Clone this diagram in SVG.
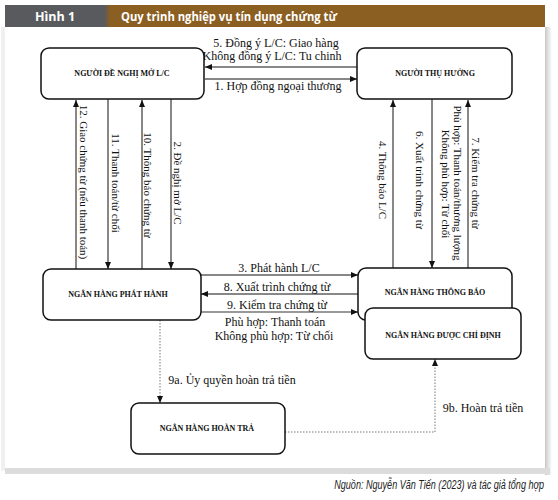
<svg xmlns="http://www.w3.org/2000/svg" width="558" height="500" viewBox="0 0 558 500">
<defs>
<style>
.node rect{fill:#fff;stroke:#111;stroke-width:1.5}
.nt{font-family:"Liberation Serif","Times New Roman",serif;font-weight:bold;font-size:8px;fill:#111;text-anchor:middle}
.lb{font-family:"Liberation Serif","Times New Roman",serif;font-size:12px;fill:#111;text-anchor:middle}
.vl{font-family:"Liberation Serif","Times New Roman",serif;font-size:11px;fill:#111;text-anchor:middle}
.ln{stroke:#111;stroke-width:1;fill:none}
.dot{stroke:#777;stroke-width:1;fill:none;stroke-dasharray:1.5 1.5}
</style>
<marker id="ah" markerWidth="7" markerHeight="6" refX="7" refY="3" orient="auto" markerUnits="userSpaceOnUse">
<path d="M0,0 L7,3 L0,6 z" fill="#111"/>
</marker>
<linearGradient id="shr" x1="0" y1="0" x2="1" y2="0">
<stop offset="0" stop-color="#c8c8c8"/><stop offset="1" stop-color="#fff"/>
</linearGradient>
<linearGradient id="hdr" x1="0" y1="0" x2="1" y2="0">
<stop offset="0" stop-color="#595a5d"/><stop offset="0.95" stop-color="#595a5d"/><stop offset="1" stop-color="#8b5e22"/>
</linearGradient>
</defs>
<rect x="0" y="0" width="558" height="500" fill="#fff"/>
<rect x="545" y="27" width="7" height="448" fill="url(#shr)"/>
<rect x="5" y="468" width="545" height="6" fill="#dcdcdc"/>
<rect x="1" y="27" width="4" height="444" fill="#f0f0f0"/>
<rect x="5" y="27" width="540" height="441" fill="#fff"/>
<rect x="5" y="5" width="540" height="22" fill="#8b5e22"/>
<rect x="5" y="5" width="105" height="22" fill="url(#hdr)"/>
<text x="55" y="21" font-family="'Open Sans','Liberation Sans',sans-serif" font-weight="bold" font-size="12.5" fill="#fff" text-anchor="middle">Hình 1</text>
<text x="121" y="21" font-family="'Open Sans','Liberation Sans',sans-serif" font-weight="bold" font-size="12.5" fill="#fff" textLength="216" lengthAdjust="spacingAndGlyphs">Quy trình nghiệp vụ tín dụng chứng từ</text>

<g id="connectors">
<line class="ln" x1="357" y1="67" x2="205" y2="67" marker-end="url(#ah)"/>
<line class="ln" x1="205" y1="79" x2="357" y2="79" marker-end="url(#ah)"/>
<line class="ln" x1="76" y1="269" x2="76" y2="100" marker-end="url(#ah)"/>
<line class="ln" x1="108" y1="99" x2="108" y2="269" marker-end="url(#ah)"/>
<line class="ln" x1="142" y1="269" x2="142" y2="100" marker-end="url(#ah)"/>
<line class="ln" x1="171" y1="99" x2="171" y2="269" marker-end="url(#ah)"/>
<line class="ln" x1="393" y1="268" x2="393" y2="100" marker-end="url(#ah)"/>
<line class="ln" x1="432" y1="99" x2="432" y2="268" marker-end="url(#ah)"/>
<line class="ln" x1="468" y1="268" x2="468" y2="100" marker-end="url(#ah)"/>
<line class="ln" x1="201" y1="275" x2="358" y2="275" marker-end="url(#ah)"/>
<line class="ln" x1="358" y1="294" x2="201" y2="294" marker-end="url(#ah)"/>
<line x1="201" y1="312" x2="358" y2="312" stroke="#777" stroke-width="1.6" marker-end="url(#ah)"/>
<line class="dot" x1="160" y1="320" x2="160" y2="403" marker-end="url(#ah)"/>
<polyline class="dot" points="285,432 435,432 435,359" marker-end="url(#ah)"/>

<text class="lb" x="276" y="47" font-size="11.5">5. Đồng ý L/C: Giao hàng</text>
<text class="lb" x="272" y="60" font-size="11.5">Không đồng ý L/C: Tu chinh</text>
<text class="lb" x="278" y="90">1. Hợp đồng ngoại thương</text>
<text class="lb" x="279" y="272">3. Phát hành L/C</text>
<text class="lb" x="277" y="291">8. Xuất trình chứng từ</text>
<text class="lb" x="277" y="309">9. Kiểm tra chứng từ</text>
<text class="lb" x="275" y="326">Phù hợp: Thanh toán</text>
<text class="lb" x="274" y="340">Không phù hợp: Từ chối</text>
<text class="lb" x="232" y="384">9a. Ủy quyền hoàn trả tiền</text>
<text class="lb" x="483" y="412">9b. Hoàn trả tiền</text>

<text class="vl" transform="translate(84,182) rotate(90)" y="4">12. Giao chứng từ (nếu thanh toán)</text>
<text class="vl" transform="translate(116,183) rotate(90)" y="4">11. Thanh toán/từ chối</text>
<text class="vl" transform="translate(148,185) rotate(90)" y="4">10. Thông báo chứng từ</text>
<text class="vl" transform="translate(178,183) rotate(90)" y="4">2. Đề nghị mở L/C</text>
<text class="vl" transform="translate(383,180) rotate(90)" y="4">4. Thông báo L/C</text>
<text class="vl" transform="translate(420,180) rotate(90)" y="4">6. Xuất trình chứng từ</text>
<text class="vl" transform="translate(476,183) rotate(90)" y="4">7. Kiểm tra chứng từ</text>
<text class="vl" transform="translate(458,183) rotate(90)" y="4">Phù hợp: Thanh toán/thương lượng</text>
<text class="vl" transform="translate(446,184) rotate(90)" y="4">Không phù hợp: Từ chối</text>
</g>

<g id="nguoi-de-nghi" class="node">
<rect x="41" y="48" width="163" height="51" rx="8"/>
<text class="nt" x="122" y="76">NGƯỜI ĐỀ NGHỊ MỞ L/C</text>
</g>
<g id="nguoi-thu-huong" class="node">
<rect x="357" y="48" width="155" height="51" rx="8"/>
<text class="nt" x="435" y="76">NGƯỜI THỤ HƯỞNG</text>
</g>
<g id="nh-phat-hanh" class="node">
<rect x="43" y="269" width="158" height="51" rx="8"/>
<text class="nt" x="118" y="297">NGÂN HÀNG PHÁT HÀNH</text>
</g>
<g id="nh-thong-bao" class="node">
<rect x="358" y="268" width="154" height="52" rx="8"/>
<text class="nt" x="435" y="295">NGÂN HÀNG THÔNG BÁO</text>
</g>
<g id="nh-chi-dinh" class="node">
<rect x="365" y="308" width="156" height="51" rx="8"/>
<text class="nt" x="443" y="338">NGÂN HÀNG ĐƯỢC CHỈ ĐỊNH</text>
</g>
<g id="nh-hoan-tra" class="node">
<rect x="131" y="403" width="154" height="51" rx="8"/>
<text class="nt" x="207" y="431">NGÂN HÀNG HOÀN TRẢ</text>
</g>

<text transform="translate(544,489) scale(0.755,1)" font-family="'Liberation Sans',Arial,sans-serif" font-style="italic" font-size="12" fill="#222" text-anchor="end">Nguồn: Nguyễn Văn Tiến (2023) và tác giả tổng hợp</text>
</svg>
